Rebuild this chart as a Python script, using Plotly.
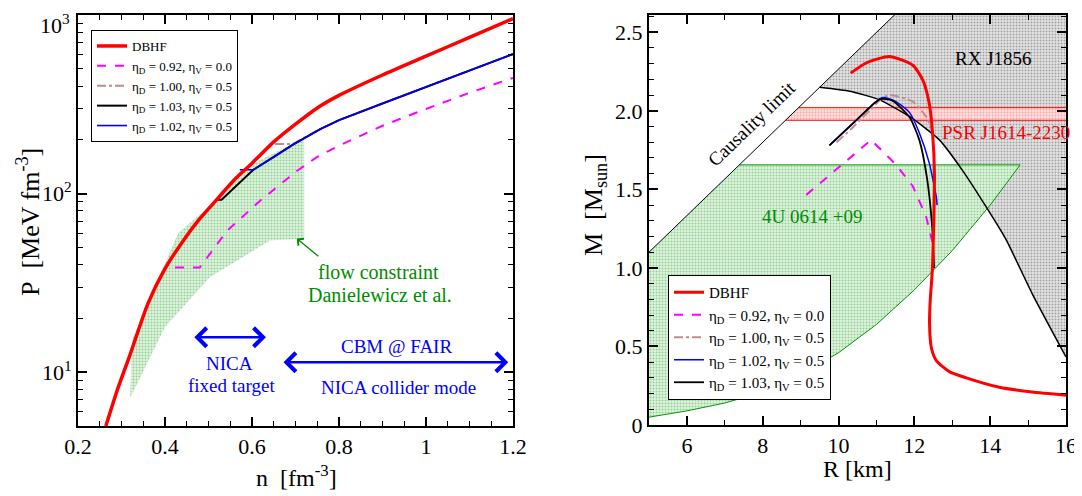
import numpy as np
import plotly.graph_objects as go

FONT = "Liberation Serif, Times New Roman, Tinos, DejaVu Serif, serif"
W, H = 1082, 496
PAGE_OFF = 8  # page body margin offset of the figure

# ---------------- Left panel data: P(n) ----------------
n_dbhf = [0.264, 0.29, 0.32, 0.36, 0.40, 0.44, 0.48, 0.52, 0.56, 0.60, 0.65, 0.70, 0.75, 0.80, 0.90, 1.00, 1.10, 1.20]
P_dbhf = [5.0, 7.9, 12.6, 24.0, 38.0, 53.7, 72.4, 93.3, 120.0, 148.0, 195.0, 245.0, 302.0, 355.0, 462.0, 589.0, 750.0, 955.0]

n_092 = [0.423, 0.48, 0.542, 0.618, 0.703, 0.749, 0.80, 0.90, 1.00, 1.10, 1.20]
P_092 = [38.6, 38.6, 61.7, 91.0, 134.0, 160.0, 186.0, 240.0, 298.0, 367.0, 445.0]

n_100 = [0.653, 0.694, 0.757, 0.80, 0.90, 1.00, 1.10, 1.20]
P_100 = [190.0, 190.0, 230.0, 258.0, 320.0, 395.0, 490.0, 605.0]

n_103 = [0.52, 0.53, 0.603, 0.648, 0.694, 0.757, 0.80, 0.90, 1.00, 1.10, 1.20]
P_103 = [92.6, 92.6, 136.0, 159.0, 188.0, 230.0, 258.0, 320.0, 395.0, 490.0, 605.0]

n_102 = [0.572, 0.603, 0.648, 0.694, 0.757, 0.80, 0.90, 1.00, 1.10, 1.20]
P_102 = [136.0, 136.0, 159.0, 188.0, 230.0, 258.0, 320.0, 395.0, 490.0, 605.0]

flow_n_upper = [0.324, 0.43, 0.52, 0.575, 0.72]
flow_P_upper = [15.1, 60.0, 93.0, 136.0, 205.0]
flow_n_lower = [0.72, 0.641, 0.503, 0.40, 0.32]
flow_P_lower = [56.0, 54.6, 34.0, 17.9, 7.2]

P_ticks = [10, 100, 1000]
P_ticklabels = ["10<sup>1</sup>", "10<sup>2</sup>", "10<sup>3</sup>"]

# ---------------- Right panel data: M(R) ----------------
R_dbhf = [10.32, 10.74, 11.34, 11.96, 12.22, 12.39, 12.48, 12.53, 12.51, 12.47, 12.42, 12.40, 12.45, 12.58, 12.92, 13.37, 14.24, 15.10, 16.0]
M_dbhf = [2.24, 2.306, 2.346, 2.29, 2.197, 2.05, 1.86, 1.60, 1.28, 0.97, 0.80, 0.65, 0.49, 0.41, 0.34, 0.30, 0.24, 0.21, 0.19]

R_092 = [9.15, 10.86, 11.52, 11.96, 12.31, 12.48]
M_092 = [1.465, 1.815, 1.656, 1.52, 1.327, 1.16]

R_100 = [9.95, 10.40, 10.85, 11.10, 11.34, 11.95, 12.32, 12.47]
M_100 = [1.80, 1.90, 2.01, 2.07, 2.10, 2.06, 1.96, 1.87]

R_102 = [9.76, 10.40, 10.95, 11.16, 11.50, 11.87, 12.13, 12.39, 12.58, 12.60]
M_102 = [1.78, 1.925, 2.05, 2.085, 2.06, 1.99, 1.86, 1.67, 1.45, 1.40]

R_103 = [9.76, 10.40, 10.95, 11.10, 11.42, 11.87, 12.13, 12.34, 12.47, 12.52]
M_103 = [1.78, 1.925, 2.05, 2.075, 2.065, 1.96, 1.815, 1.56, 1.26, 1.00]

R_caus = [5.0, 11.86]
M_caus = [1.10, 2.70]

R_rx = [9.5, 10.3, 11.08, 11.9, 12.66, 13.3, 13.89, 14.42, 15.1, 16.0]
M_rx = [2.15, 2.125, 2.07, 1.96, 1.815, 1.61, 1.39, 1.18, 0.84, 0.433]

R_4u = [5.0, 6.0, 7.0, 8.0, 9.0, 10.0, 11.0, 12.0, 13.0, 14.0, 14.79]
M_4u = [0.05, 0.09, 0.14, 0.21, 0.32, 0.46, 0.64, 0.86, 1.11, 1.40, 1.656]

M_psr = [1.94, 2.02]
R_max, M_top = 16.0, 2.70

fig = go.Figure()

lab_092 = "η<sub>D</sub> = 0.92, η<sub>V</sub> = 0.0"
lab_100 = "η<sub>D</sub> = 1.00, η<sub>V</sub> = 0.5"
lab_102 = "η<sub>D</sub> = 1.02, η<sub>V</sub> = 0.5"
lab_103 = "η<sub>D</sub> = 1.03, η<sub>V</sub> = 0.5"

# ---- left: flow constraint region
poly_n = flow_n_upper + flow_n_lower
poly_P = flow_P_upper + flow_P_lower
fig.add_trace(go.Scatter(x=poly_n, y=poly_P, fill="toself", mode="none", showlegend=False,
                         fillpattern=dict(shape=".", size=3, solidity=0.35,
                                          fgcolor="rgb(70,175,70)", bgcolor="rgb(225,243,225)"),
                         xaxis="x", yaxis="y", hoverinfo="skip"))

fig.add_trace(go.Scatter(x=n_092, y=P_092, mode="lines", name=lab_092,
                         line=dict(color="magenta", width=2, dash="dash"),
                         legend="legend", legendrank=2, xaxis="x", yaxis="y"))
fig.add_trace(go.Scatter(x=n_100, y=P_100, mode="lines", name=lab_100,
                         line=dict(color="rgb(188,143,143)", width=2, dash="dashdot"),
                         legend="legend", legendrank=3, xaxis="x", yaxis="y"))
fig.add_trace(go.Scatter(x=n_103, y=P_103, mode="lines", name=lab_103,
                         line=dict(color="black", width=2),
                         legend="legend", legendrank=4, xaxis="x", yaxis="y"))
fig.add_trace(go.Scatter(x=n_102, y=P_102, mode="lines", name=lab_102,
                         line=dict(color="blue", width=1.6),
                         legend="legend", legendrank=5, xaxis="x", yaxis="y"))
fig.add_trace(go.Scatter(x=n_dbhf, y=P_dbhf, mode="lines", name="DBHF",
                         line=dict(color="red", width=3.5, shape="spline", smoothing=0.6),
                         legend="legend", legendrank=1, xaxis="x", yaxis="y"))

# ---- right: regions
caus_R = np.array(R_caus)
caus_M = np.array(M_caus)
def caus_R_at(m):
    return float(np.interp(m, caus_M, caus_R))

# gray RX J1856 region
gray_R = [R_rx[0], caus_R_at(M_top), R_max] + R_rx[::-1]
gray_M = [M_rx[0], M_top, M_top] + M_rx[::-1]
fig.add_trace(go.Scatter(x=gray_R, y=gray_M, fill="toself", mode="none", showlegend=False,
                         fillpattern=dict(shape=".", size=3, solidity=0.35,
                                          fgcolor="rgb(95,95,95)", bgcolor="rgb(228,228,228)"),
                         xaxis="x2", yaxis="y2", hoverinfo="skip"))

# green 4U region
top4 = M_4u[-1]
green_R = R_4u + [caus_R_at(top4), R_caus[0]]
green_M = M_4u + [top4, M_caus[0]]
fig.add_trace(go.Scatter(x=green_R, y=green_M, fill="toself", mode="none", showlegend=False,
                         fillpattern=dict(shape=".", size=3, solidity=0.35,
                                          fgcolor="rgb(70,175,70)", bgcolor="rgb(225,243,225)"),
                         xaxis="x2", yaxis="y2", hoverinfo="skip"))
fig.add_trace(go.Scatter(x=R_4u + [caus_R_at(top4)], y=M_4u + [top4], mode="lines", showlegend=False,
                         line=dict(color="rgb(0,150,0)", width=1), xaxis="x2", yaxis="y2",
                         hoverinfo="skip"))

# PSR band
psr_R = [caus_R_at(M_psr[0]), R_max, R_max, caus_R_at(M_psr[1])]
psr_M = [M_psr[0], M_psr[0], M_psr[1], M_psr[1]]
fig.add_trace(go.Scatter(x=psr_R, y=psr_M, fill="toself", mode="none", showlegend=False,
                         fillpattern=dict(shape=".", size=3, solidity=0.35,
                                          fgcolor="rgb(255,110,110)", bgcolor="rgb(255,225,225)"),
                         xaxis="x2", yaxis="y2", hoverinfo="skip"))
for m in M_psr:
    fig.add_trace(go.Scatter(x=[caus_R_at(m), R_max], y=[m, m], mode="lines", showlegend=False,
                             line=dict(color="red", width=1), xaxis="x2", yaxis="y2", hoverinfo="skip"))

# causality + RX lines
fig.add_trace(go.Scatter(x=R_caus, y=M_caus, mode="lines", showlegend=False,
                         line=dict(color="black", width=1), xaxis="x2", yaxis="y2", hoverinfo="skip"))
fig.add_trace(go.Scatter(x=R_rx, y=M_rx, mode="lines", showlegend=False,
                         line=dict(color="black", width=1.5, shape="spline", smoothing=0.5),
                         xaxis="x2", yaxis="y2", hoverinfo="skip"))

# right curves
fig.add_trace(go.Scatter(x=R_092, y=M_092, mode="lines", name=lab_092,
                         line=dict(color="magenta", width=2, dash="dash"),
                         legend="legend2", legendrank=2, xaxis="x2", yaxis="y2"))
fig.add_trace(go.Scatter(x=R_100, y=M_100, mode="lines", name=lab_100,
                         line=dict(color="rgb(188,143,143)", width=2, dash="dashdot", shape="spline", smoothing=0.6),
                         legend="legend2", legendrank=3, xaxis="x2", yaxis="y2"))
fig.add_trace(go.Scatter(x=R_102, y=M_102, mode="lines", name=lab_102,
                         line=dict(color="blue", width=1.5, shape="spline", smoothing=0.6),
                         legend="legend2", legendrank=4, xaxis="x2", yaxis="y2"))
fig.add_trace(go.Scatter(x=R_103, y=M_103, mode="lines", name=lab_103,
                         line=dict(color="black", width=1.8, shape="spline", smoothing=0.6),
                         legend="legend2", legendrank=5, xaxis="x2", yaxis="y2"))
fig.add_trace(go.Scatter(x=R_dbhf, y=M_dbhf, mode="lines", name="DBHF",
                         line=dict(color="red", width=3, shape="spline", smoothing=0.6),
                         legend="legend2", legendrank=1, xaxis="x2", yaxis="y2"))

# ---------------- axes ----------------
def px_x(p):
    return (p - PAGE_OFF) / W

def px_y(p):
    return 1 - (p - PAGE_OFF) / H

axis_common = dict(showline=True, linecolor="black", linewidth=2, mirror="ticks",
                   ticks="inside", ticklen=9, tickwidth=1.5, tickcolor="black",
                   showgrid=False, zeroline=False, ticklabeloverflow="allow", automargin=False,
                   tickfont=dict(family=FONT, size=22, color="black"))

minor_y_log = [6, 7, 8, 9, 20, 30, 40, 50, 60, 70, 80, 90, 200, 300, 400, 500, 600, 700, 800, 900]

fig.update_layout(
    width=W, height=H,
    margin=dict(l=0, r=0, t=0, b=0, pad=0, autoexpand=False),
    paper_bgcolor="white", plot_bgcolor="white",
    font=dict(family=FONT, color="black"),
    xaxis=dict(domain=[px_x(78), px_x(513)], range=[0.2, 1.2], anchor="y",
               tickmode="linear", tick0=0.2, dtick=0.2,
               minor=dict(dtick=0.05, tick0=0.2, ticks="inside", ticklen=5, tickcolor="black", tickwidth=1.2),
               **axis_common),
    yaxis=dict(domain=[px_y(426), px_y(15)], type="log", range=[np.log10(5), 3.0005], anchor="x",
               tickmode="array", tickvals=P_ticks,
               ticktext=P_ticklabels[:2] + [""],
               minor=dict(tickmode="array", tickvals=minor_y_log, ticks="inside", ticklen=5,
                          tickcolor="black", tickwidth=1.2),
               **axis_common),
    xaxis2=dict(domain=[px_x(649), px_x(1066)], range=[5, 16], anchor="y2",
                tickmode="array", tickvals=[6, 8, 10, 12, 14, 16],
                minor=dict(tickmode="array", tickvals=[5, 7, 9, 11, 13, 15], ticks="inside", ticklen=5,
                           tickcolor="black", tickwidth=1.2),
                **axis_common),
    yaxis2=dict(domain=[px_y(425), px_y(15)], range=[0, 2.61], anchor="x2",
                tickmode="array", tickvals=[0, 0.5, 1.0, 1.5, 2.0, 2.5],
                ticktext=["0", "0.5", "1.0", "1.5", "2.0", "2.5"],
                minor=dict(tickmode="array",
                           tickvals=[0.1, 0.2, 0.3, 0.4, 0.6, 0.7, 0.8, 0.9, 1.1, 1.2, 1.3, 1.4,
                                     1.6, 1.7, 1.8, 1.9, 2.1, 2.2, 2.3, 2.4, 2.6],
                           ticks="inside", ticklen=5, tickcolor="black", tickwidth=1.2),
                **axis_common),
    legend=dict(x=px_x(91), y=px_y(30), xanchor="left", yanchor="top",
                bgcolor="white", bordercolor="black", borderwidth=1,
                font=dict(family=FONT, size=13, color="black"), tracegroupgap=0,
                itemwidth=30, traceorder="normal"),
    legend2=dict(x=px_x(668), y=px_y(275), xanchor="left", yanchor="top",
                 bgcolor="white", bordercolor="black", borderwidth=1,
                 font=dict(family=FONT, size=15, color="black"), tracegroupgap=0,
                 itemwidth=30, traceorder="normal"),
)

NB = "\u00a0"
ann = []
# top decade label kept fully visible at the upper edge
ann.append(dict(text=P_ticklabels[2], x=px_x(72), y=px_y(8), xref="paper", yref="paper",
                xanchor="right", yanchor="top", showarrow=False,
                font=dict(family=FONT, size=22, color="black")))
# axis titles
title_font = dict(family=FONT, size=26, color="black")
ann.append(dict(text="P" + NB * 2 + "[MeV fm<sup>-3</sup>]", x=px_x(29), y=px_y(222), xref="paper", yref="paper",
                xanchor="center", yanchor="middle",
                textangle=-90, showarrow=False, font=title_font))
ann.append(dict(text="n" + NB * 2 + "[fm<sup>-3</sup>]", x=px_x(296), y=px_y(476), xref="paper", yref="paper",
                xanchor="center", yanchor="middle", showarrow=False, font=dict(family=FONT, size=24, color="black")))
ann.append(dict(text="M" + NB * 2 + "[M<sub>sun</sub>]", x=px_x(595), y=px_y(205), xref="paper", yref="paper",
                xanchor="center", yanchor="middle",
                textangle=-90, showarrow=False, font=title_font))
ann.append(dict(text="R [km]", x=px_x(857), y=px_y(469), xref="paper", yref="paper",
                xanchor="center", yanchor="middle", showarrow=False, font=dict(family=FONT, size=24, color="black")))

GREEN = "rgb(0,140,0)"
BLUE = "rgb(0,0,255)"
# flow constraint
ann.append(dict(text="flow constraint", x=0.890, y=1.559, xref="x", yref="y", showarrow=False,
                font=dict(family=FONT, size=20, color=GREEN)))
ann.append(dict(text="Danielewicz et al.", x=0.894, y=1.43, xref="x", yref="y", showarrow=False,
                font=dict(family=FONT, size=20, color=GREEN)))
ann.append(dict(text="", x=0.703, y=np.log10(56.1), ax=0.756, ay=np.log10(43.9), xref="x", yref="y",
                axref="x", ayref="y", showarrow=True, arrowhead=4, arrowsize=1.3, arrowwidth=1.3,
                arrowcolor=GREEN, standoff=0))
# NICA / CBM arrows
ann.append(dict(text="", x=0.632, y=1.196, ax=0.464, ay=1.196, xref="x", yref="y", axref="x", ayref="y",
                showarrow=True, arrowhead=4, arrowside="end+start", arrowsize=1.4, arrowwidth=2.6,
                arrowcolor=BLUE, standoff=0, startstandoff=0))
ann.append(dict(text="", x=1.189, y=1.056, ax=0.669, ay=1.056, xref="x", yref="y", axref="x", ayref="y",
                showarrow=True, arrowhead=4, arrowside="end+start", arrowsize=1.4, arrowwidth=2.6,
                arrowcolor=BLUE, standoff=0, startstandoff=0))
ann.append(dict(text="NICA", x=0.549, y=1.05, xref="x", yref="y", showarrow=False,
                font=dict(family=FONT, size=19, color=BLUE)))
ann.append(dict(text="fixed target", x=0.554, y=0.927, xref="x", yref="y", showarrow=False,
                font=dict(family=FONT, size=19, color=BLUE)))
ann.append(dict(text="CBM @ FAIR", x=0.933, y=1.145, xref="x", yref="y", showarrow=False,
                font=dict(family=FONT, size=19, color=BLUE)))
ann.append(dict(text="NICA collider mode", x=0.936, y=0.916, xref="x", yref="y", showarrow=False,
                font=dict(family=FONT, size=19, color=BLUE)))
# right panel labels
ann.append(dict(text="RX J1856", x=14.1, y=2.33, xref="x2", yref="y2", showarrow=False,
                font=dict(family=FONT, size=19, color="black")))
ann.append(dict(text="PSR J1614-2230", x=14.41, y=1.86, xref="x2", yref="y2", showarrow=False,
                font=dict(family=FONT, size=19, color="red")))
ann.append(dict(text="4U 0614 +09", x=9.29, y=1.325, xref="x2", yref="y2", showarrow=False,
                font=dict(family=FONT, size=19, color=GREEN)))
ann.append(dict(text="Causality limit", x=7.71, y=1.92, xref="x2", yref="y2", showarrow=False,
                textangle=-44, font=dict(family=FONT, size=19, color="black")))

fig.update_layout(annotations=ann)

fig.write_html("out.html")
